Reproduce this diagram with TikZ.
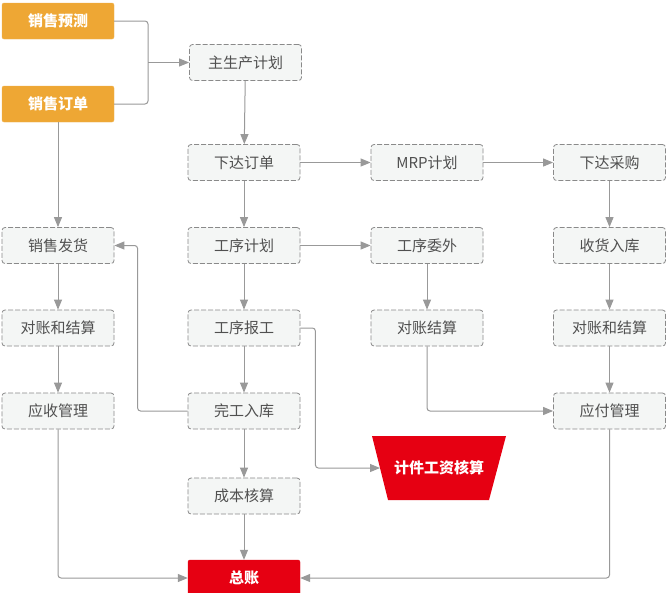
\documentclass[tikz,border=0pt]{standalone}
\usepackage{fontspec}
\setmainfont{Noto Sans CJK SC}
\usetikzlibrary{arrows.meta}
\definecolor{boxfill}{HTML}{F4F6F5}
\definecolor{boxline}{HTML}{8A8A8A}
\definecolor{txtc}{HTML}{505050}
\definecolor{orgc}{HTML}{EEA734}
\definecolor{redc}{HTML}{E60012}
\definecolor{lineg}{HTML}{999999}
\begin{document}
\begin{tikzpicture}[x=1pt,y=-1pt,
  proc/.style={draw=boxline, fill=boxfill, dash pattern=on 5pt off 2pt, rounded corners=3pt,
    minimum width=112pt, minimum height=36pt, inner sep=0pt, text=txtc,
    font=\fontsize{15}{17}\selectfont, line width=0.8pt},
  orng/.style={fill=orgc, draw=orgc!85!white, rounded corners=2pt, minimum width=112pt,
    minimum height=36pt, inner sep=0pt, text=white, font=\fontsize{15}{17}\selectfont\bfseries},
  redbox/.style={fill=redc, draw=redc, rounded corners=2pt, minimum width=112pt,
    minimum height=36pt, inner sep=0pt, text=white, font=\fontsize{15}{17}\selectfont\bfseries},
  traptext/.style={inner sep=0pt, text=white, font=\fontsize{15}{17}\selectfont\bfseries},
  plainline/.style={draw=lineg, line width=1pt, rounded corners=3pt},
  conn/.style={plainline, -{Triangle[length=10pt,width=8pt]}}
]
\useasboundingbox[fill=white] (0,0) rectangle (667,592);

\node[orng] (f) at (58,21) {销售预测};
\node[orng] (o) at (58,104) {销售订单};
\node[proc] (m) at (245.5,62.5) {主生产计划};

\node[proc] (xd) at (244,162.5) {下达订单};
\node[proc] (mrp) at (427,162.5) {MRP计划};
\node[proc] (cg) at (609.5,162.5) {下达采购};

\node[proc] (fh) at (58,245.5) {销售发货};
\node[proc] (gj) at (244,245.5) {工序计划};
\node[proc] (ww) at (427,245.5) {工序委外};
\node[proc] (sh) at (609.5,245.5) {收货入库};

\node[proc] (dz1) at (58,328) {对账和结算};
\node[proc] (bg) at (244,328) {工序报工};
\node[proc] (dz2) at (427,328) {对账结算};
\node[proc] (dz3) at (609.5,328) {对账和结算};

\node[proc] (ys) at (58,411) {应收管理};
\node[proc] (wg) at (244,411) {完工入库};
\node[proc] (yf) at (609.5,411) {应付管理};

\node[proc] (cb) at (244,496) {成本核算};
\node[redbox] (zz) at (244,578) {总账};

% trapezoid
\fill[redc] (372,436) -- (506,436) -- (489,500) -- (388,500) -- cycle;
\node[traptext] (jj) at (439,468) {计件工资核算};
\coordinate (jjw) at (380,468);

\coordinate (jn) at (148,62.5);
\draw[plainline] (f.east) -| (jn);
\draw[plainline] (o.east) -| (jn);
\draw[conn] (jn) -- (m.west);
\draw[conn] (m) -- (xd);
\draw[conn] (xd) -- (mrp);
\draw[conn] (mrp) -- (cg);
\draw[conn] (cg) -- (sh);
\draw[conn] (sh) -- (dz3);
\draw[conn] (dz3) -- (yf);
\draw[conn] (xd) -- (gj);
\draw[conn] (gj) -- (ww);
\draw[conn] (ww) -- (dz2);
\draw[conn] (gj) -- (bg);
\draw[conn] (bg) -- (wg);
\draw[conn] (wg) -- (cb);
\draw[conn] (cb) -- (zz);
\draw[conn] (o) -- (fh);
\draw[conn] (fh) -- (dz1);
\draw[conn] (dz1) -- (ys);
\draw[conn] (ys.south) |- (zz.west);
\draw[conn] (yf.south) |- (zz.east);
\draw[conn] (wg.west) -- ++(-50,0) |- (fh.east);
\draw[conn] (bg.east) -- ++(15,0) |- (jjw);
\draw[conn] (dz2.south) |- (yf.west);
\end{tikzpicture}
\end{document}
